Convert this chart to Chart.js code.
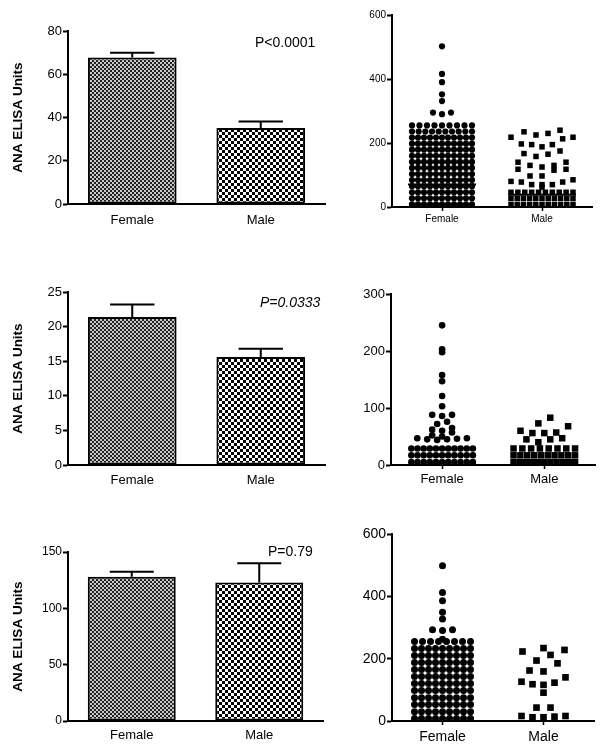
<!DOCTYPE html>
<html>
<head>
<meta charset="utf-8">
<script src="https://cdn.jsdelivr.net/npm/chart.js@4.4.1/dist/chart.umd.min.js"></script>
<style>
  html, body { margin: 0; padding: 0; background: #fff; }
  #page { position: relative; width: 600px; height: 749px; overflow: hidden; background: #fff; }
  canvas { position: absolute; }
</style>
</head>
<body>
<div id="page">
  <canvas id="barA" width="335" height="240" style="left:0;top:0"></canvas>
  <canvas id="dotsA" width="265" height="240" style="left:335px;top:0"></canvas>
  <canvas id="barB" width="335" height="250" style="left:0;top:245px"></canvas>
  <canvas id="dotsB" width="265" height="250" style="left:335px;top:245px"></canvas>
  <canvas id="barC" width="335" height="254" style="left:0;top:495px"></canvas>
  <canvas id="dotsC" width="265" height="254" style="left:335px;top:495px"></canvas>
</div>
<script>
const FONT = "'Liberation Sans', Arial, Helvetica, sans-serif";
const groups = ["Female", "Male"];

// top row
const barA_means = [67.7, 35.1];
const barA_errors = [2.3, 3.1];
const barA_yTicks = [0, 20, 40, 60, 80];
const barA_label = "P<0.0001";

const dotsA_yTicks = [0, 200, 400, 600];
const dotsA_femaleLevels = [8, 27, 46, 65, 84, 103, 122, 141, 160, 179, 198, 217, 236, 255];
const dotsA_femaleCounts = [11, 11, 11, 11, 11, 11, 11, 11, 11, 11, 11, 11, 10, 9];
const dotsA_femaleOther = [290, 295, 295, 331, 352, 390, 416, 502];
const dotsA_maleLevels = [8, 27, 46];
const dotsA_maleCounts = [11, 11, 10];
const dotsA_maleOther = [62, 70, 70, 70, 78, 78, 80, 85, 97, 97, 115, 118, 118, 125, 130, 130, 140, 140,
  158, 165, 167, 175, 188, 195, 195, 197, 213, 218, 218, 225, 230, 235, 240];
const dotsA_means = [70, 38];

// middle row
const barB_means = [21.4, 15.6];
const barB_errors = [1.8, 1.2];
const barB_yTicks = [0, 5, 10, 15, 20, 25];
const barB_label = "P=0.0333";

const dotsB_yTicks = [0, 100, 200, 300];
const dotsB_femaleLevels = [5, 17, 29];
const dotsB_femaleCounts = [11, 11, 11];
const dotsB_femaleOther = [44, 45, 45, 46, 47, 47, 50, 52, 57, 60, 62, 65, 72, 76, 86, 88, 88,
  103, 121, 147, 158, 198, 203, 245];
const dotsB_maleLevels = [5, 17, 29];
const dotsB_maleCounts = [11, 10, 8];
const dotsB_maleOther = [40, 45, 45, 47, 56, 56, 57, 60, 68, 73, 83];

// bottom row
const barC_means = [128, 123];
const barC_errors = [4.5, 17];
const barC_yTicks = [0, 50, 100, 150];
const barC_label = "P=0.79";

const dotsC_yTicks = [0, 200, 400, 600];
const dotsC_femaleLevels = [8, 30, 53, 75, 98, 120, 143, 165, 188, 210, 233, 255];
const dotsC_femaleCounts = [9, 9, 9, 9, 9, 9, 9, 9, 9, 9, 9, 8];
const dotsC_femaleOther = [262, 290, 293, 293, 327, 349, 386, 412, 498];
const dotsC_male = [12, 12, 14, 16, 16, 43, 43, 91, 116, 118, 123, 126, 140, 159, 162, 185, 194, 212, 223, 228, 234];

// plot areas inside each canvas (px)
const boxes = {
  barA: { left: 68, top: 31, right: 325, bottom: 204 },
  dotsA: { left: 57, top: 15, right: 257, bottom: 207 },
  barB: { left: 68, top: 47, right: 325, bottom: 220 },
  dotsB: { left: 56, top: 49, right: 262, bottom: 220 },
  barC: { left: 68, top: 57, right: 323, bottom: 226 },
  dotsC: { left: 57, top: 39, right: 259, bottom: 226 },
};

function expand(levels, counts) {
  const out = [];
  levels.forEach((v, i) => { for (let k = 0; k < counts[i]; k++) out.push(v); });
  return out;
}

// column scatter layout: values falling in the same row band are spread sideways
function columnLayout(parts, center, pxX, pxY, half) {
  const out = [];
  parts.forEach(part => {
    const rows = new Map();
    part.values.slice().sort((a, b) => a - b).forEach(v => {
      const r = Math.floor(v * pxY / part.rowH);
      if (!rows.has(r)) rows.set(r, []);
      rows.get(r).push(v);
    });
    rows.forEach(row => {
      const n = row.length;
      const s = n > 1 ? Math.min(part.step, 2 * half / (n - 1)) : 0;
      const offs = row.map((_, i) => (i - (n - 1) / 2) * s)
        .sort((a, b) => Math.abs(a) - Math.abs(b) || a - b);
      row.forEach((v, i) => out.push({ x: center + offs[i] / pxX, y: v }));
    });
  });
  return out;
}

function checker(ctx, cell, dark, light) {
  const c = document.createElement("canvas");
  c.width = c.height = cell * 2;
  const g = c.getContext("2d");
  g.fillStyle = light;
  g.fillRect(0, 0, cell * 2, cell * 2);
  g.fillStyle = dark;
  g.fillRect(0, 0, cell, cell);
  g.fillRect(cell, cell, cell, cell);
  return ctx.createPattern(c, "repeat");
}

function yScale(ticks, box, size, withTitle) {
  return {
    min: ticks[0],
    max: ticks[ticks.length - 1],
    afterBuildTicks: s => { s.ticks = ticks.map(v => ({ value: v })); },
    ticks: { color: "#000", padding: 1, font: { family: FONT, size: size } },
    grid: { drawOnChartArea: false, tickLength: 5, tickWidth: 2, tickColor: "#000" },
    border: { color: "#000", width: 2 },
    title: {
      display: withTitle,
      text: "ANA ELISA Units",
      color: "#000",
      font: { family: FONT, size: 13.5, weight: "bold" },
      padding: { top: 10, bottom: 0 },
    },
    afterFit: s => { s.width = box.left; },
  };
}

function barChart(id, means, errors, yTicks, pText, pFont, tickSize) {
  const canvas = document.getElementById(id);
  const box = boxes[id];
  const ctx = canvas.getContext("2d");
  const fills = [checker(ctx, 2, "#222", "#c8c8c8"), checker(ctx, 3, "#000", "#fff")];

  const errorBars = {
    id: "errorBars",
    afterDatasetsDraw(chart) {
      const y = chart.scales.y;
      const c = chart.ctx;
      c.save();
      c.strokeStyle = "#000";
      c.lineWidth = 2;
      chart.getDatasetMeta(0).data.forEach((bar, i) => {
        const top = y.getPixelForValue(means[i] + errors[i]);
        const half = bar.width / 4;
        c.beginPath();
        c.moveTo(bar.x, bar.y);
        c.lineTo(bar.x, top);
        c.moveTo(bar.x - half, top);
        c.lineTo(bar.x + half, top);
        c.stroke();
      });
      c.fillStyle = "#000";
      c.font = pFont;
      c.textBaseline = "middle";
      c.fillText(pText.text, pText.x, pText.y);
      c.restore();
    },
  };

  new Chart(ctx, {
    type: "bar",
    data: {
      labels: groups,
      datasets: [{
        data: means,
        backgroundColor: fills,
        borderColor: "#000",
        borderWidth: 2,
        borderSkipped: false,
        barPercentage: 1,
        categoryPercentage: 0.69,
      }],
    },
    options: {
      responsive: false,
      animation: false,
      events: [],
      layout: { padding: { left: 0, top: box.top, right: canvas.width - box.right, bottom: 0 } },
      plugins: { legend: { display: false }, tooltip: { enabled: false } },
      scales: {
        x: {
          grid: { display: false, drawTicks: false },
          border: { color: "#000", width: 2 },
          ticks: { color: "#000", padding: pText.labelPad, font: { family: FONT, size: 13 } },
          afterFit: s => { s.height = canvas.height - box.bottom; },
        },
        y: yScale(yTicks, box, tickSize, true),
      },
    },
    plugins: [errorBars],
  });
}

function dotChart(id, female, male, yTicks, opts) {
  const canvas = document.getElementById(id);
  const box = boxes[id];
  const pxX = (box.right - box.left) / 2;
  const pxY = (box.bottom - box.top) / yTicks[yTicks.length - 1];
  const fPts = columnLayout(female, 0, pxX, pxY, opts.halfF);
  const mPts = columnLayout(male, 1, pxX, pxY, opts.halfM);

  const meanLines = {
    id: "meanLines",
    afterDatasetsDraw(chart) {
      if (!opts.means) return;
      const xs = chart.scales.x, ys = chart.scales.y, c = chart.ctx;
      c.save();
      c.strokeStyle = "#000";
      c.lineWidth = 2;
      opts.means.forEach((m, i) => {
        const y = ys.getPixelForValue(m);
        c.beginPath();
        c.moveTo(xs.getPixelForValue(i - 0.34), y);
        c.lineTo(xs.getPixelForValue(i + 0.34), y);
        c.stroke();
      });
      c.restore();
    },
  };

  new Chart(canvas.getContext("2d"), {
    type: "scatter",
    data: {
      datasets: [
        { data: fPts, pointStyle: "circle", pointRadius: opts.rF, backgroundColor: "#000", borderWidth: 0, clip: false },
        { data: mPts, pointStyle: "rect", pointRadius: opts.rM, backgroundColor: "#000", borderWidth: 0, clip: false },
      ],
    },
    options: {
      responsive: false,
      animation: false,
      events: [],
      layout: { padding: { left: 0, top: box.top, right: canvas.width - box.right, bottom: 0 } },
      plugins: { legend: { display: false }, tooltip: { enabled: false } },
      scales: {
        x: {
          type: "linear",
          min: -0.5,
          max: 1.5,
          afterBuildTicks: s => { s.ticks = [{ value: 0 }, { value: 1 }]; },
          ticks: { color: "#000", padding: opts.labelPad, font: { family: FONT, size: opts.labelSize }, callback: v => groups[v] },
          grid: { drawOnChartArea: false, tickLength: 4, tickWidth: 1.5, tickColor: "#000" },
          border: { color: "#000", width: 2 },
          afterFit: s => { s.height = canvas.height - box.bottom; },
        },
        y: yScale(yTicks, box, opts.tickSize, false),
      },
    },
    plugins: [meanLines],
  });
}

barChart("barA", barA_means, barA_errors, barA_yTicks,
  { text: barA_label, x: 255, y: 43, labelPad: 9 }, "14px " + FONT, 13);
dotChart("dotsA",
  [{ values: expand(dotsA_femaleLevels, dotsA_femaleCounts), rowH: 6, step: 9 },
   { values: dotsA_femaleOther, rowH: 6, step: 9 }],
  [{ values: expand(dotsA_maleLevels, dotsA_maleCounts), rowH: 6, step: 9 },
   { values: dotsA_maleOther, rowH: 10, step: 12 }],
  dotsA_yTicks,
  { halfF: 30, halfM: 31, rF: 3.1, rM: 3.9, tickSize: 10, labelSize: 10, labelPad: 2, means: dotsA_means });

barChart("barB", barB_means, barB_errors, barB_yTicks,
  { text: barB_label, x: 260, y: 58, labelPad: 8 }, "italic 14px " + FONT, 13);
dotChart("dotsB",
  [{ values: expand(dotsB_femaleLevels, dotsB_femaleCounts), rowH: 6.8, step: 10 },
   { values: dotsB_femaleOther, rowH: 6.8, step: 10 }],
  [{ values: expand(dotsB_maleLevels, dotsB_maleCounts), rowH: 6.8, step: 10 },
   { values: dotsB_maleOther, rowH: 10, step: 12 }],
  dotsB_yTicks,
  { halfF: 31, halfM: 31, rF: 3.3, rM: 4.6, tickSize: 13, labelSize: 13, labelPad: 3 });

barChart("barC", barC_means, barC_errors, barC_yTicks,
  { text: barC_label, x: 268, y: 57, labelPad: 7 }, "14px " + FONT, 12);
dotChart("dotsC",
  [{ values: expand(dotsC_femaleLevels, dotsC_femaleCounts), rowH: 6.8, step: 10 },
   { values: dotsC_femaleOther, rowH: 6.8, step: 10 }],
  [{ values: dotsC_male, rowH: 12, step: 14 }],
  dotsC_yTicks,
  { halfF: 28, halfM: 22, rF: 3.5, rM: 4.7, tickSize: 14, labelSize: 14, labelPad: 4 });
</script>
</body>
</html>
